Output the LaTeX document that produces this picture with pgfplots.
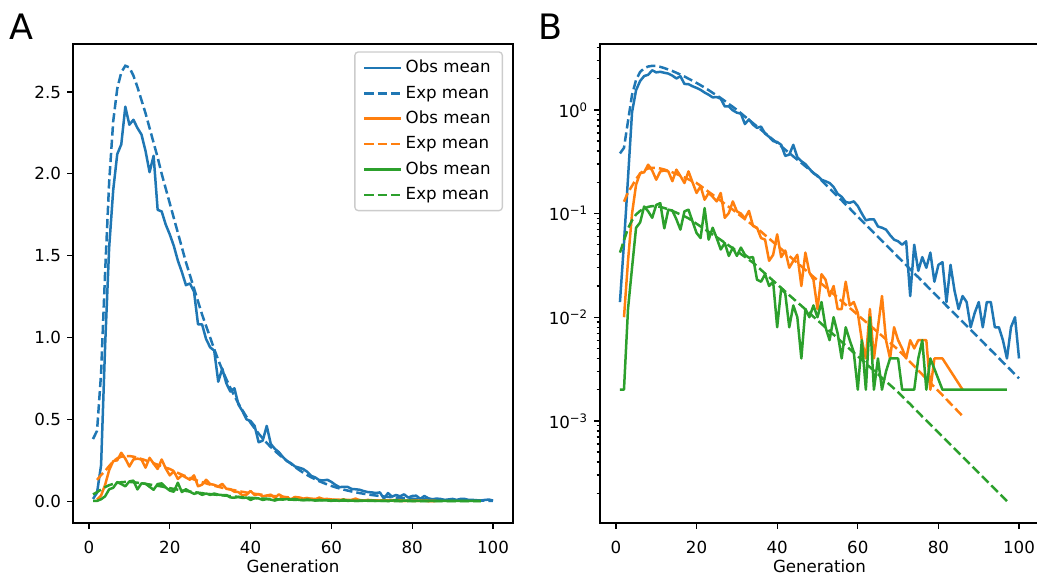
\documentclass[border=0pt]{standalone}
\usepackage{fontspec}
\setmainfont{DejaVu Sans}
\usepackage{pgfplots}
\usepackage{pgfplotstable}
\pgfplotsset{compat=1.18}
\definecolor{tabblue}{HTML}{1F77B4}
\definecolor{taborange}{HTML}{FF7F0E}
\definecolor{tabgreen}{HTML}{2CA02C}
\definecolor{LegEdge}{HTML}{CCCCCC}

% observed and expected means per generation
\pgfplotstableread{
g v
1 0.014
2 0.052
3 0.22
4 0.95
5 1.55
6 1.90
7 2.12
8 2.18
9 2.41
10 2.30
11 2.33
12 2.28
13 2.24
14 2.14
15 2.01
16 2.11
17 1.78
18 1.77
19 1.69
20 1.63
21 1.56
22 1.47
23 1.40
24 1.32
25 1.33
26 1.28
27 1.08
28 1.08
29 0.99
30 0.94
31 0.92
32 0.73
33 0.81
34 0.72
35 0.67
36 0.69
37 0.59
38 0.55
39 0.50
40 0.49
41 0.46
42 0.36
43 0.37
44 0.46
45 0.35
46 0.32
47 0.30
48 0.27
49 0.245
50 0.232
51 0.212
52 0.205
53 0.197
54 0.180
55 0.155
56 0.145
57 0.129
58 0.127
59 0.131
60 0.118
61 0.100
62 0.086
63 0.088
64 0.088
65 0.075
66 0.073
67 0.070
68 0.062
69 0.056
70 0.054
71 0.050
72 0.054
73 0.016
74 0.050
75 0.028
76 0.038
77 0.030
78 0.042
79 0.022
80 0.032
81 0.034
82 0.014
83 0.032
84 0.018
85 0.012
86 0.016
87 0.014
88 0.008
89 0.011
90 0.014
91 0.008
92 0.014
93 0.014
94 0.008
95 0.008
96 0.006
97 0.004
98 0.008
99 0.010
100 0.004
}\BlueObs

\pgfplotstableread{
g v
1 0.38
2 0.43
3 0.78
4 1.40
5 1.95
6 2.32
7 2.52
8 2.62
9 2.66
10 2.65
11 2.60
12 2.53
13 2.45
14 2.37
15 2.28
16 2.19
17 2.10
18 2.00
19 1.91
20 1.82
21 1.73
22 1.64
23 1.55
24 1.46
25 1.38
26 1.30
27 1.22
28 1.14
29 1.07
30 1.00
31 0.929
32 0.863
33 0.802
34 0.745
35 0.692
36 0.643
37 0.597
38 0.555
39 0.515
40 0.479
41 0.445
42 0.413
43 0.384
44 0.356
45 0.331
46 0.308
47 0.286
48 0.265
49 0.247
50 0.229
51 0.209
52 0.191
53 0.175
54 0.160
55 0.146
56 0.134
57 0.122
58 0.112
59 0.102
60 0.0933
61 0.0853
62 0.0780
63 0.0713
64 0.0652
65 0.0596
66 0.0545
67 0.0498
68 0.0455
69 0.0416
70 0.0380
71 0.0348
72 0.0318
73 0.0290
74 0.0265
75 0.0243
76 0.0222
77 0.0203
78 0.0185
79 0.0169
80 0.0155
81 0.0142
82 0.0129
83 0.0118
84 0.0108
85 0.00989
86 0.00904
87 0.00826
88 0.00755
89 0.00690
90 0.00631
91 0.00577
92 0.00527
93 0.00482
94 0.00441
95 0.00403
96 0.00368
97 0.00337
98 0.00308
99 0.00281
100 0.00257
}\BlueExp

\pgfplotstableread{
g v
2 0.010
3 0.035
4 0.100
5 0.190
6 0.245
7 0.250
8 0.296
9 0.260
10 0.212
11 0.255
12 0.260
13 0.255
14 0.205
15 0.265
16 0.230
17 0.197
18 0.255
19 0.200
20 0.158
21 0.183
22 0.136
23 0.158
24 0.145
25 0.131
26 0.158
27 0.091
28 0.101
29 0.131
30 0.105
31 0.100
32 0.090
33 0.106
34 0.076
35 0.073
36 0.058
37 0.056
38 0.035
39 0.040
40 0.063
41 0.038
42 0.044
43 0.030
44 0.035
45 0.040
46 0.020
47 0.042
48 0.027
49 0.023
50 0.012
51 0.026
52 0.023
53 0.016
54 0.020
55 0.012
56 0.012
57 0.022
58 0.013
59 0.014
60 0.011
61 0.006
62 0.004
63 0.012
64 0.004
65 0.008
66 0.016
67 0.006
68 0.004
69 0.008
70 0.006
71 0.005
72 0.004
73 0.006
74 0.005
75 0.006
76 0.006
77 0.006
78 0.002
79 0.004
80 0.004
81 0.004
86 0.002
}\OrangeObs

\pgfplotstableread{
g v
2 0.130
3 0.160
4 0.185
5 0.215
6 0.243
7 0.262
8 0.272
9 0.276
10 0.276
11 0.272
12 0.266
13 0.258
14 0.250
15 0.241
16 0.232
17 0.223
18 0.214
19 0.205
20 0.197
21 0.185
22 0.173
23 0.162
24 0.152
25 0.142
26 0.133
27 0.124
28 0.116
29 0.109
30 0.1014
31 0.0946
32 0.0883
33 0.0824
34 0.0769
35 0.0718
36 0.0670
37 0.0619
38 0.0574
39 0.0531
40 0.0492
41 0.0455
42 0.0422
43 0.0390
44 0.0361
45 0.0334
46 0.0310
47 0.0286
48 0.0265
49 0.0245
50 0.0228
51 0.0210
52 0.0195
53 0.0180
54 0.0167
55 0.0155
56 0.0143
57 0.0132
58 0.0123
59 0.0114
60 0.0105
61 0.00973
62 0.00902
63 0.00834
64 0.00773
65 0.00714
66 0.00662
67 0.00612
68 0.00568
69 0.00525
70 0.00486
71 0.00444
72 0.00405
73 0.00369
74 0.00337
75 0.00307
76 0.00280
77 0.00255
78 0.00233
79 0.00212
80 0.00194
81 0.00177
82 0.00161
83 0.00147
84 0.00134
85 0.00122
86 0.00111
}\OrangeExp

\pgfplotstableread{
g v
1 0.002
2 0.002
3 0.012
4 0.030
5 0.073
6 0.082
7 0.117
8 0.105
9 0.091
10 0.121
11 0.126
12 0.072
13 0.109
14 0.107
15 0.088
16 0.070
17 0.105
18 0.109
19 0.084
20 0.065
21 0.058
22 0.113
23 0.056
24 0.073
25 0.058
26 0.045
27 0.052
28 0.039
29 0.047
30 0.039
31 0.047
32 0.040
33 0.0375
34 0.038
35 0.023
36 0.022
37 0.026
38 0.020
39 0.022
40 0.008
41 0.019
42 0.017
43 0.008
44 0.013
45 0.010
46 0.004
47 0.012
48 0.010
49 0.013
50 0.010
51 0.014
52 0.008
53 0.006
54 0.010
55 0.007
56 0.004
57 0.008
58 0.006
59 0.0046
60 0.002
61 0.006
62 0.002
63 0.010
64 0.002
65 0.004
66 0.002
67 0.003
68 0.004
69 0.004
70 0.004
71 0.002
72 0.002
73 0.002
74 0.002
75 0.004
76 0.006
77 0.002
78 0.004
81 0.002
82 0.002
83 0.002
84 0.002
85 0.002
86 0.002
87 0.002
88 0.002
89 0.002
90 0.002
91 0.002
92 0.002
93 0.002
94 0.002
95 0.002
96 0.002
97 0.002
}\GreenObs

\pgfplotstableread{
g v
1 0.042
2 0.055
3 0.072
4 0.086
5 0.098
6 0.106
7 0.112
8 0.116
9 0.118
10 0.118
11 0.116
12 0.113
13 0.110
14 0.106
15 0.102
16 0.098
17 0.094
18 0.090
19 0.0847
20 0.0798
21 0.0752
22 0.0708
23 0.0667
24 0.0628
25 0.0592
26 0.0557
27 0.0524
28 0.0492
29 0.0462
30 0.0435
31 0.0407
32 0.0382
33 0.0358
34 0.0336
35 0.0310
36 0.0286
37 0.0264
38 0.0244
39 0.0225
40 0.0208
41 0.0192
42 0.0177
43 0.0163
44 0.0151
45 0.0139
46 0.0129
47 0.0119
48 0.0110
49 0.0101
50 0.00935
51 0.00863
52 0.00796
53 0.00735
54 0.00679
55 0.00627
56 0.00578
57 0.00535
58 0.00493
59 0.00455
60 0.00421
61 0.00388
62 0.00358
63 0.00330
64 0.00305
65 0.00282
66 0.00260
67 0.00240
68 0.00222
69 0.00205
70 0.00189
71 0.00173
72 0.00158
73 0.00145
74 0.00132
75 0.00121
76 0.00110
77 0.00101
78 0.000923
79 0.000843
80 0.000771
81 0.000705
82 0.000644
83 0.000590
84 0.000540
85 0.000493
86 0.000451
87 0.000412
88 0.000377
89 0.000344
90 0.000315
91 0.000288
92 0.000263
93 0.000241
94 0.000220
95 0.000201
96 0.000184
97 0.000168
}\GreenExp

\pgfplotsset{
  obs/.style={line width=1.5pt, line join=round},
  expm/.style={line width=1.5pt, dash pattern=on 5.55pt off 2.4pt},
  panel/.style={
    scale only axis,
    anchor=south west,
    width=264pt, height=287.4pt,
    xmin=-3.95, xmax=104.95,
    xtick={0,20,40,60,80,100},
    xticklabels={0,20,40,60,80,100},
    xlabel={Generation},
    axis line style={black, line width=0.8pt},
    tick style={black, line width=0.8pt},
    major tick length=3.5pt,
    minor tick length=2pt,
    tick align=outside,
    xtick pos=left, ytick pos=left,
    tick label style={font=\normalsize, inner sep=0pt},
    xticklabel style={anchor=base, yshift=-15.1pt},
    yticklabel style={anchor=east, xshift=-3.5pt},
    xlabel style={at={(axis description cs:0.5,0)}, anchor=base, yshift=-29.6pt, font=\normalsize},
  },
}

\begin{document}
\begin{tikzpicture}
\useasboundingbox (0,0) rectangle (622.2pt,345pt);

\begin{axis}[panel,
  at={(43.8pt,31.2pt)},
  ymin=-0.133, ymax=2.793,
  ytick={0,0.5,1,1.5,2,2.5},
  yticklabels={0.0,0.5,1.0,1.5,2.0,2.5},
  legend cell align=left,
  legend image code/.code={\draw[#1, line width=1.5pt] (0pt,0pt) -- (22pt,0pt);},
  legend style={at={(1,1)}, anchor=north east, xshift=-6pt, yshift=-4.4pt,
    draw=LegEdge, line width=0.8pt, rounded corners=2pt, fill=white,
    font=\normalsize, inner xsep=5pt, inner ysep=3pt, row sep=2.3pt,
    /tikz/every even column/.append style={column sep=5pt}},
]
\addplot[tabblue, obs] table[x=g, y=v] {\BlueObs};
\addlegendentry{Obs mean}
\addplot[tabblue, expm] table[x=g, y=v] {\BlueExp};
\addlegendentry{Exp mean}
\addplot[taborange, obs] table[x=g, y=v] {\OrangeObs};
\addlegendentry{Obs mean}
\addplot[taborange, expm] table[x=g, y=v] {\OrangeExp};
\addlegendentry{Exp mean}
\addplot[tabgreen, obs] table[x=g, y=v] {\GreenObs};
\addlegendentry{Obs mean}
\addplot[tabgreen, expm] table[x=g, y=v] {\GreenExp};
\addlegendentry{Exp mean}
\end{axis}

\begin{axis}[panel,
  at={(360pt,31.2pt)},
  width=263.4pt,
  ymode=log,
  ymin=1.035e-4, ymax=4.32,
  ytick={0.001,0.01,0.1,1},
  yticklabels={10\textsuperscript{−3},10\textsuperscript{−2},10\textsuperscript{−1},10\textsuperscript{0}},
  minor ytick={2e-4,3e-4,4e-4,5e-4,6e-4,7e-4,8e-4,9e-4,
    2e-3,3e-3,4e-3,5e-3,6e-3,7e-3,8e-3,9e-3,
    0.02,0.03,0.04,0.05,0.06,0.07,0.08,0.09,
    0.2,0.3,0.4,0.5,0.6,0.7,0.8,0.9,2,3,4},
]
\addplot[tabblue, obs] table[x=g, y=v] {\BlueObs};
\addplot[tabblue, expm] table[x=g, y=v] {\BlueExp};
\addplot[taborange, obs] table[x=g, y=v] {\OrangeObs};
\addplot[taborange, expm] table[x=g, y=v] {\OrangeExp};
\addplot[tabgreen, obs] table[x=g, y=v] {\GreenObs};
\addplot[tabgreen, expm] table[x=g, y=v] {\GreenExp};
\end{axis}

\node[anchor=base west, inner sep=0pt, font=\fontsize{21}{25}\selectfont] at (5.4pt,321pt) {A};
\node[anchor=base west, inner sep=0pt, font=\fontsize{21}{25}\selectfont] at (322.8pt,321pt) {B};
\end{tikzpicture}
\end{document}
